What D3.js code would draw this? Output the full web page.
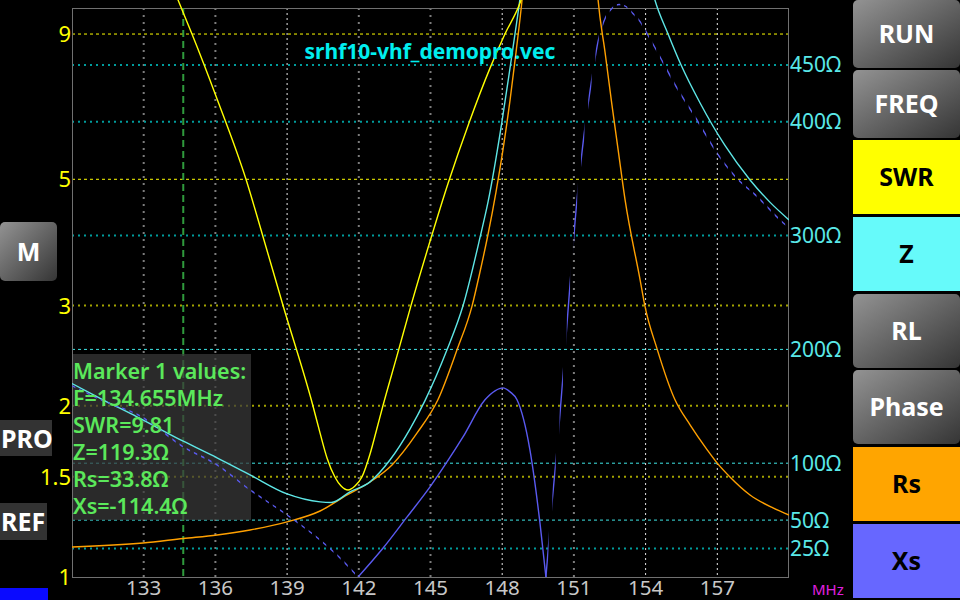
<!DOCTYPE html>
<html><head><meta charset="utf-8">
<script src="https://cdn.jsdelivr.net/npm/d3@7"></script>
<style>html,body{margin:0;padding:0;background:#000;overflow:hidden}svg{display:block}</style>
</head><body>
<svg id="c" width="960" height="600"></svg>
<script>
// ---------- data ----------
const freqTicks = [133, 136, 139, 142, 145, 148, 151, 154, 157];
const swrTicks = [1, 1.5, 2, 3, 5, 9];
const zTicks = [25, 50, 100, 200, 300, 400, 450];
const titleText = "srhf10-vhf_demopro.vec";
const markerFreq = 134.655;
const markerLines = ["Marker 1 values:", "F=134.655MHz", "SWR=9.81", "Z=119.3Ω", "Rs=33.8Ω", "Xs=-114.4Ω"];
const rightButtons = ["RUN", "FREQ", "SWR", "Z", "RL", "Phase", "Rs", "Xs"];
const leftButtons = ["M", "PRO", "REF"];
const unitLabel = "MHz";

const swrFreq = [130, 132, 133.5, 134.2, 134.655, 135.02, 136.07, 137.28, 137.95, 138.83, 140.08, 140.38, 140.67, 141.0, 141.26, 141.55, 141.84, 142.13, 142.47, 142.72, 143.01, 143.6, 144.18, 144.98, 145.73, 146.61, 147.49, 148.12, 148.7, 149.5, 151, 153, 156, 160];
const swrVals = [24, 16, 12.4, 10.9, 9.81, 9.0, 6.92, 5.0, 4.02, 3.0, 2.0, 1.79, 1.619, 1.499, 1.445, 1.422, 1.445, 1.499, 1.645, 1.798, 2.0, 2.449, 2.996, 3.89, 4.91, 6.28, 7.84, 9.01, 10.09, 13, 25, 40, 30, 20];

const zFreq = [130, 131.3, 132.72, 134.655, 136.07, 137.45, 139.0, 140.38, 140.85, 141.63, 142.47, 143.31, 144.14, 144.77, 145.69, 146.36, 147.07, 147.41, 147.99, 148.33, 148.66, 148.74, 149.5, 150.5, 151.5, 152.5, 153.5, 154.0, 154.39, 154.94, 155.48, 156.28, 157.32, 158.37, 159.21, 160];
const zVals = [170, 155.7, 140.7, 119.3, 104.7, 89.7, 73.0, 66.0, 65.5, 74.8, 83.6, 103, 130, 155, 199.6, 238.3, 298.2, 329.8, 400.2, 447.7, 495.2, 507.5, 680, 900, 850, 720, 590, 540, 507, 477.2, 450.1, 416.5, 379.2, 348.9, 329.2, 313.8];

const rsFreq = [130, 132.97, 134.655, 136.07, 137.45, 139.0, 140.38, 141.51, 142.47, 143.39, 144.44, 145.31, 146.11, 146.74, 147.07, 147.41, 147.74, 148.03, 148.33, 148.58, 148.83, 149.5, 150.5, 151.4, 152.01, 152.30, 152.59, 152.85, 153.14, 153.77, 153.97, 154.48, 155.23, 155.86, 156.57, 156.99, 157.53, 158.37, 159.33, 160];
const rsVals = [26.4, 29.9, 33.8, 36.9, 41.3, 48.4, 58.0, 72.1, 83.5, 98.5, 126.6, 155.7, 199.6, 238.3, 268, 301.4, 338.3, 375.2, 419.2, 461.3, 507, 700, 1000, 750, 507.5, 461.7, 415.1, 375.5, 331.6, 261.2, 238.3, 200.5, 155.7, 133.7, 112, 100.3, 87.9, 72.1, 60.7, 54.5];

const xsFreq = [130, 131.3, 132.85, 134.655, 136.07, 137.45, 139.0, 140.38, 141.3, 141.97, 143.0, 144.02, 144.98, 145.69, 146.36, 147.28, 147.7, 148.03, 148.33, 148.62, 149.16, 149.58, 149.83, 150.08, 150.33, 150.59, 150.84, 151.13, 151.42, 151.72, 152.01, 152.34, 152.59, 152.89, 153.18, 153.47, 153.77, 154.06, 154.39, 155.23, 156.19, 157.03, 157.95, 158.58, 159.75, 160];
const xsVals = [-168, -154.8, -141.6, -114.4, -98.5, -76.5, -54.5, -32.5, -15, 0, 25, 52.8, 79.2, 101.1, 123.1, 155.7, 163.6, 166.2, 162.7, 155.7, 111.7, 47.5, 0, -64.2, -120.5, -189.1, -257.7, -331.6, -387.9, -433.6, -470.5, -492.5, -499.6, -503.1, -501.3, -495.2, -488.1, -477.6, -465.3, -432.7, -400.2, -371.2, -347.5, -336, -311.3, -307];

// ---------- layout / style ----------
const L = 72, R = 789, T = 8, B = 577;
const FONT = "'Noto Sans', 'DejaVu Sans', sans-serif";
const dimFreq = new Set([133, 136, 142, 145, 151]);
const dimSwr = new Set([3, 2, 1.5]);
const dimZ = new Set([450, 400, 300, 25]);
const LW = 1.4;

const svg = d3.select("#c");
svg.append("rect").attr("width", 960).attr("height", 600).attr("fill", "#000");

const x = d3.scaleLinear().domain([130, 160]).range([L, R]);
const ySwr = d3.scaleLog().domain([1, 10]).range([B, T]);
const yZ = d3.scaleLinear().domain([0, 500]).range([B, T]);

const defs = svg.append("defs");
defs.append("clipPath").attr("id", "plotClip").append("rect")
  .attr("x", L).attr("y", 0).attr("width", R - L).attr("height", B);
const stripe = defs.append("clipPath").attr("id", "stripes");
stripe.selectAll("rect").data(d3.range(0, 101)).join("rect")
  .attr("x", k => x(130 + 0.3 * k)).attr("y", 0)
  .attr("width", x(130.14) - x(130)).attr("height", B);
const g1 = defs.append("linearGradient").attr("id", "gbtn")
  .attr("x1", 0).attr("y1", 0).attr("x2", 1).attr("y2", 1);
g1.append("stop").attr("offset", "0%").attr("stop-color", "#939393");
g1.append("stop").attr("offset", "100%").attr("stop-color", "#353535");

// ---------- grid ----------
const grid = svg.append("g");
grid.selectAll("line.vf").data(freqTicks).join("line")
  .attr("x1", d => x(d)).attr("x2", d => x(d)).attr("y1", T).attr("y2", B)
  .attr("stroke", d => dimFreq.has(d) ? "#7c7c7c" : "#e6e6e6")
  .attr("stroke-width", d => dimFreq.has(d) ? 2 : 1)
  .attr("stroke-dasharray", d => dimFreq.has(d) ? "2,5" : "2,3");
grid.selectAll("line.hs").data(swrTicks.filter(d => d > 1)).join("line")
  .attr("x1", L).attr("x2", R).attr("y1", d => ySwr(d)).attr("y2", d => ySwr(d))
  .attr("stroke", d => dimSwr.has(d) ? "#a3a300" : "#ffff00")
  .attr("stroke-width", d => dimSwr.has(d) ? 2 : 1)
  .attr("stroke-dasharray", d => dimSwr.has(d) ? "2,4" : "3,3");
grid.selectAll("line.hz").data(zTicks).join("line")
  .attr("x1", L).attr("x2", R).attr("y1", d => yZ(d)).attr("y2", d => yZ(d))
  .attr("stroke", d => dimZ.has(d) ? "#009c9c" : "#3fe6e6")
  .attr("stroke-width", d => dimZ.has(d) ? 2 : 1)
  .attr("stroke-dasharray", d => dimZ.has(d) ? "2,4" : "3,3");

// frame
svg.append("rect").attr("x", L + 0.5).attr("y", T + 0.5).attr("width", R - L - 1).attr("height", B - T)
  .attr("fill", "none").attr("stroke", "#707070").attr("stroke-width", 1);

// marker line
svg.append("line").attr("x1", x(markerFreq)).attr("x2", x(markerFreq)).attr("y1", T).attr("y2", B)
  .attr("stroke", "#2f9a3c").attr("stroke-width", 2).attr("stroke-dasharray", "7,4");

// marker box
svg.append("rect").attr("x", L + 1).attr("y", 354).attr("width", 178).attr("height", 166)
  .attr("fill", "#3a3a3a").attr("opacity", 0.72);

// ---------- curves ----------
const plot = svg.append("g").attr("clip-path", "url(#plotClip)");
const zip = (a, b) => a.map((f, i) => [f, b[i]]);
const lineZ = () => d3.line().x(d => x(d[0])).y(d => yZ(Math.abs(d[1]))).curve(d3.curveMonotoneX);
const lineS = d3.line().x(d => x(d[0])).y(d => ySwr(d[1])).curve(d3.curveMonotoneX);

plot.append("path").attr("d", lineZ()(zip(rsFreq, rsVals)))
  .attr("fill", "none").attr("stroke", "#ffa000").attr("stroke-width", LW);
plot.append("path").attr("d", lineZ()(zip(zFreq, zVals)))
  .attr("fill", "none").attr("stroke", "#5ee6e6").attr("stroke-width", LW);
const xsData = zip(xsFreq, xsVals);
plot.append("path").attr("d", lineZ().defined(d => d[1] >= 0)(xsData))
  .attr("fill", "none").attr("stroke", "#5a5af0").attr("stroke-width", LW);
plot.append("g").attr("clip-path", "url(#stripes)").append("path")
  .attr("d", lineZ().defined(d => d[1] <= 0)(xsData))
  .attr("fill", "none").attr("stroke", "#5a5af0").attr("stroke-width", LW);
plot.append("path").attr("d", lineS(zip(swrFreq, swrVals)))
  .attr("fill", "none").attr("stroke", "#ffff00").attr("stroke-width", LW);

// ---------- labels ----------
svg.selectAll("text.swr").data(swrTicks).join("text")
  .attr("x", 71).attr("y", d => ySwr(d) + 8).attr("text-anchor", "end")
  .attr("font-family", FONT).attr("font-size", 22).attr("fill", "#ffff00").text(d => d);
svg.selectAll("text.z").data(zTicks).join("text")
  .attr("x", 790).attr("y", d => yZ(d) + 7.5)
  .attr("font-family", FONT).attr("font-size", 21).attr("fill", "#5ae8e8").text(d => d + "Ω");
svg.selectAll("text.f").data(freqTicks).join("text")
  .attr("x", d => x(d)).attr("y", 595).attr("text-anchor", "middle")
  .attr("font-family", FONT).attr("font-size", 20.5).attr("fill", "#c8c8c8").text(d => d);
svg.append("text").attr("x", 812).attr("y", 595).attr("font-family", FONT).attr("font-size", 15)
  .attr("fill", "#e020e0").text(unitLabel);

svg.append("text").attr("x", 430).attr("y", 59).attr("text-anchor", "middle")
  .attr("font-family", FONT).attr("font-size", 21).attr("font-weight", 700)
  .attr("fill", "#00eeee").text(titleText);

svg.selectAll("text.mk").data(markerLines).join("text")
  .attr("x", 73).attr("y", (d, i) => 379 + i * 27)
  .attr("font-family", FONT).attr("font-size", 21.5).attr("font-weight", 600)
  .attr("fill", "#5be85b").text(d => d);

// ---------- right buttons ----------
const btnTop = [0, 70, 140, 217, 294, 370, 447, 524];
const btnH = [68, 68, 74, 74, 74, 74, 74, 74];
const btnFill = ["url(#gbtn)", "url(#gbtn)", "#ffff00", "#66fafa", "url(#gbtn)", "url(#gbtn)", "#ffa500", "#6767ff"];
const btnText = ["#fff", "#fff", "#000", "#000", "#fff", "#fff", "#000", "#000"];
const rb = svg.append("g");
rightButtons.forEach((t, i) => {
  const gray = btnFill[i].startsWith("url");
  rb.append("rect").attr("x", 853).attr("y", btnTop[i]).attr("width", 107).attr("height", btnH[i])
    .attr("rx", gray ? 5 : 0).attr("fill", btnFill[i]);
  rb.append("text").attr("x", 906.5).attr("y", btnTop[i] + btnH[i] / 2 + 9)
    .attr("text-anchor", "middle").attr("font-family", FONT).attr("font-size", 25)
    .attr("font-weight", 700).attr("fill", btnText[i]).text(t);
});

// ---------- left buttons ----------
svg.append("rect").attr("x", 0).attr("y", 222).attr("width", 57).attr("height", 59).attr("rx", 5).attr("fill", "url(#gbtn)");
svg.append("text").attr("x", 28.5).attr("y", 261).attr("text-anchor", "middle").attr("font-family", FONT)
  .attr("font-size", 25).attr("font-weight", 700).attr("fill", "#fff").text(leftButtons[0]);
svg.append("rect").attr("x", 0).attr("y", 420).attr("width", 52).attr("height", 36).attr("fill", "#333");
svg.append("text").attr("x", 1).attr("y", 448).attr("font-family", FONT)
  .attr("font-size", 25).attr("font-weight", 700).attr("fill", "#fff").text(leftButtons[1]);
svg.append("rect").attr("x", 0).attr("y", 503).attr("width", 47).attr("height", 37).attr("fill", "#333");
svg.append("text").attr("x", 1).attr("y", 531).attr("font-family", FONT)
  .attr("font-size", 25).attr("font-weight", 700).attr("fill", "#fff").text(leftButtons[2]);
svg.append("rect").attr("x", 0).attr("y", 588).attr("width", 48).attr("height", 12).attr("fill", "#0a0aff");
</script>
</body></html>
